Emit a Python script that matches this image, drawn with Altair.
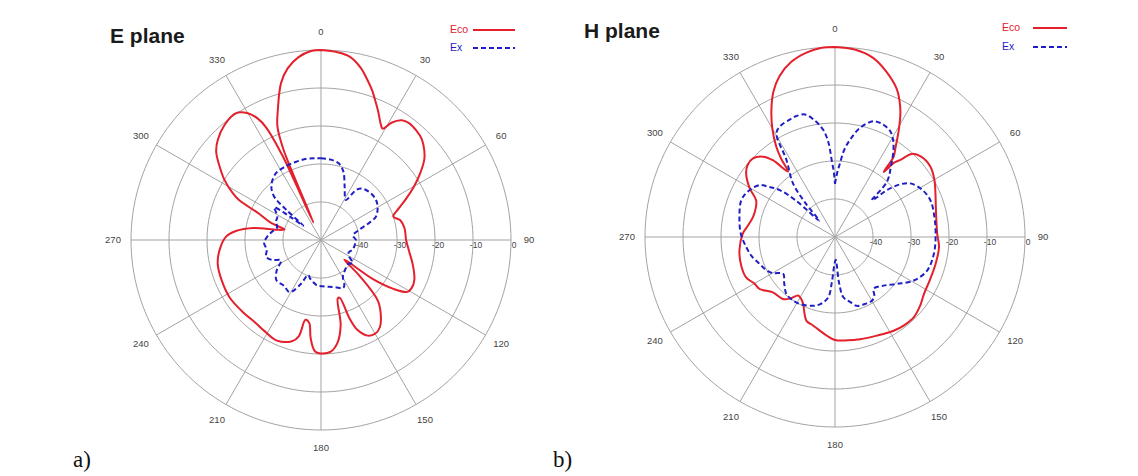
import altair as alt
import pandas as pd
import numpy as np

W, H = 1138, 476
R = 190.0          # pixel radius of the 0 dB ring
DB_MIN = -50.0
CENTERS = {"E": (321.0, 240.0), "H": (835.0, 237.0)}

# ---------------- data (angle in degrees clockwise from top, level in dB) ----------------
E_ECO_THETA = [0, 5, 9, 13, 16, 19, 21, 24, 27, 29, 31, 34, 37, 41, 45, 49, 52, 56, 60, 64, 68, 72, 76, 82,
               90, 98, 105, 113, 118, 121, 124, 127, 130, 133, 137, 142, 146, 150, 154, 158, 160, 162, 164,
               167, 171, 175, 179, 183, 186, 188, 191, 193, 196, 204, 212, 218, 228, 238, 248, 257, 265, 272,
               276, 280, 283, 286, 289, 293, 296, 298, 302, 306, 310, 314, 320, 326, 330, 332.5, 334, 335.5,
               336.5, 337.5, 339, 341.6, 345.7, 349, 353, 357, 360]
E_ECO_DB = [0, -0.4, -1.2, -3.5, -6, -8.5, -10.4, -13, -15.5, -16.5, -14, -12, -11.5, -11.8, -12.5, -14, -15.5,
            -18.5, -21.7, -25, -28, -30, -28.5, -27.8, -27.6, -26.5, -25, -23.3, -23, -23.5, -27, -33, -42, -36,
            -28, -24.4, -22.3, -21.5, -22, -24.5, -28, -34, -34, -27, -22.5, -20.5, -20.1, -20.6, -24, -27.9,
            -28.6, -24, -22.3, -21.1, -21.8, -22.2, -22, -21.6, -21.8, -22.1, -23.3, -25, -27.5, -32, -38,
            -40, -36, -32.3, -26, -23.7, -20, -17, -14, -12.2, -10.5, -9.8, -11.5, -14, -17, -26, -45, -24,
            -18, -14, -7.4, -4, -1.5, -0.2, 0]

E_EX_THETA = [0, 7, 13, 18, 24, 29, 32, 35, 38, 42, 48, 54, 60, 67, 71, 75, 82, 90, 98, 107, 114, 120, 126, 132,
              140, 149, 153, 156, 163, 170, 178, 185, 191, 196, 200, 205, 211, 219, 228, 236, 243, 248, 253,
              260, 267, 274, 280, 286, 292, 298, 302, 305, 307, 309, 311, 313, 318, 326, 334, 342, 350, 356, 360]
E_EX_DB = [-28.5, -28.7, -29.3, -31, -34.7, -37, -37.6, -34, -32.8, -32.3, -32, -32.1, -32.8, -34.3, -37, -39.6,
           -41.5, -40.8, -41, -41.3, -42, -41.5, -39.7, -40.5, -40, -38.8, -36.5, -36.1, -37, -37.5, -37.8, -38,
           -38.8, -39.5, -40.2, -37, -34, -34.5, -34.2, -36, -38.2, -36, -34.9, -35.5, -35, -35.9, -37, -38,
           -37.2, -37, -36, -35, -40, -44, -38, -33, -30.5, -28.8, -28.5, -28.4, -28.3, -28.4, -28.5]

H_ECO_THETA = [0, 6, 12, 17, 22.8, 25.5, 27.8, 31, 34, 36.1, 36.8, 38.5, 40.3, 42.8, 47, 53.6, 60, 66.6, 75, 88,
               95.5, 105, 114, 122.7, 129, 135.6, 142, 148, 157, 166.2, 173, 180, 185, 189, 194, 198.8, 202,
               205.4, 209, 212.2, 216, 220, 228.3, 235.4, 240, 245.6, 253, 262, 272, 278, 283.8, 290, 295, 300,
               305.7, 309.5, 313.8, 318.1, 321, 324.3, 325.5, 327, 330, 333.5, 337, 341, 346, 351.2, 356, 360]
H_ECO_DB = [0, -0.4, -1.8, -4.3, -7.9, -10.5, -13.1, -17.5, -21.5, -23.8, -28.6, -25, -23.4, -20.2, -19, -18.8,
            -19.8, -21.2, -22.5, -23.1, -22.5, -22.6, -22.6, -22.2, -21.2, -20.4, -20.5, -20.9, -21.8, -22.3,
            -22.6, -22.9, -24, -25, -26, -26.7, -28.5, -30.5, -31.5, -31.8, -30, -28.7, -28.1, -25.9, -25.5,
            -24.3, -24.2, -24.6, -25.7, -27, -27.8, -27.8, -27.1, -24, -21.2, -20.2, -20.1, -21.6, -24, -28.8,
            -25, -21.6, -17, -12.5, -8.5, -5.2, -2.5, -0.9, -0.1, 0]

H_EX_THETA = [0, 2, 3.9, 6, 8.8, 13, 18.4, 23, 27.6, 30.5, 33.9, 38, 43.2, 45, 46.5, 47.9, 51, 54.5, 61, 68.9, 78,
              88, 99.6, 110, 118.9, 127, 135, 143.4, 146, 149.9, 156, 162.4, 167, 172.1, 175, 178, 181, 184,
              186.4, 192, 197.6, 207.7, 214, 220.5, 228, 234.7, 240, 245, 250.5, 257, 263.5, 272, 281.9, 291.5,
              298, 304.6, 307, 310.3, 313, 316, 319, 322, 327.8, 330.6, 334, 338.9, 342, 346.2, 350, 353.7, 356,
              357.5, 359, 360]
H_EX_DB = [-36, -33, -30.5, -27, -24.1, -20.5, -17.9, -17.8, -18.6, -20, -22.4, -26, -30, -36.3, -35, -31.6, -28,
           -25.7, -24, -23.1, -23.3, -23.5, -23.6, -24.2, -26.3, -29.5, -31.9, -33, -31.5, -30.6, -30.7, -31,
           -32.5, -34, -38, -44, -43, -38, -34, -32, -31, -30.1, -30, -30.3, -32, -33.3, -31, -29.8, -28.9,
           -27.5, -26.5, -25.2, -24.3, -23.5, -24.2, -25.9, -28, -30.9, -36, -44, -38, -32, -26, -18.6, -17.4,
           -16.9, -16.6, -16.8, -18.8, -21.6, -25, -29.7, -33, -36]

RING_DB = [-40, -30, -20, -10, 0]
RING_LABELS = ["-40", "-30", "-20", "-10", "0"]
SPOKE_ANGLES = [0, 30, 60, 90, 120, 150, 180, 210, 240, 270, 300, 330]
ANGLE_LABELS = ["0", "30", "60", "90", "120", "150", "180", "210", "240", "270", "300", "330"]
PLANES = ["E", "H"]
TITLES = ["E plane", "H plane"]
PANEL_TAGS = ["a)", "b)"]
SERIES = ["Eco", "Ex"]

RED = "#e3202c"
BLUE = "#1f1fc4"
GRID = "#a3a3a3"

# ---------------- tables ----------------
curve_rows = []
for plane, eco_t, eco_d, ex_t, ex_d in [("E", E_ECO_THETA, E_ECO_DB, E_EX_THETA, E_EX_DB),
                                         ("H", H_ECO_THETA, H_ECO_DB, H_EX_THETA, H_EX_DB)]:
    for series, ts, ds in [("Eco", eco_t, eco_d), ("Ex", ex_t, ex_d)]:
        for i, (t, d) in enumerate(zip(ts, ds)):
            curve_rows.append({"plane": plane, "series": series, "idx": i, "theta": t, "db": d})
curves = pd.DataFrame(curve_rows)

ring_rows = []
for plane in PLANES:
    for db in RING_DB:
        for i, t in enumerate(np.arange(0, 361, 2)):
            ring_rows.append({"plane": plane, "ring": db, "idx": i, "theta": float(t), "db": db})
rings = pd.DataFrame(ring_rows)

spokes = pd.DataFrame([{"plane": p, "theta": a} for p in PLANES for a in SPOKE_ANGLES])
angle_text = pd.DataFrame([{"plane": p, "theta": a, "label": l}
                           for p in PLANES for a, l in zip(SPOKE_ANGLES, ANGLE_LABELS)])
ring_text = pd.DataFrame([{"plane": p, "db": d, "label": l}
                          for p in PLANES for d, l in zip(RING_DB, RING_LABELS)])

cx_expr = f"datum.plane == 'E' ? {CENTERS['E'][0]} : {CENTERS['H'][0]}"
cy_expr = f"datum.plane == 'E' ? {CENTERS['E'][1]} : {CENTERS['H'][1]}"

xs = alt.Scale(domain=[0, W], nice=False, zero=False)
ys = alt.Scale(domain=[0, H], nice=False, zero=False, reverse=True)


def polar(chart, r_expr):
    return chart.transform_calculate(
        cx=cx_expr, cy=cy_expr, rr=r_expr
    ).transform_calculate(
        px=f"datum.cx + datum.rr * sin(datum.theta * PI / 180)",
        py=f"datum.cy - datum.rr * cos(datum.theta * PI / 180)",
    )


r_from_db = f"(datum.db - ({DB_MIN})) / ({-DB_MIN}) * {R}"

ring_layer = polar(alt.Chart(rings), r_from_db).mark_line(
    color=GRID, strokeWidth=1
).encode(
    x=alt.X("px:Q", scale=xs, axis=None),
    y=alt.Y("py:Q", scale=ys, axis=None),
    detail="key:N",
    order="idx:Q",
).transform_calculate(key="datum.plane + datum.ring")

spoke_layer = alt.Chart(spokes).transform_calculate(
    cx=cx_expr, cy=cy_expr
).transform_calculate(
    x2v=f"datum.cx + {R} * sin(datum.theta * PI / 180)",
    y2v=f"datum.cy - {R} * cos(datum.theta * PI / 180)",
).mark_rule(color=GRID, strokeWidth=1).encode(
    x=alt.X("cx:Q", scale=xs, axis=None),
    y=alt.Y("cy:Q", scale=ys, axis=None),
    x2="x2v:Q",
    y2="y2v:Q",
)

angle_layer = polar(alt.Chart(angle_text), "208").mark_text(
    fontSize=9.5, color="#444444", font="Liberation Sans", align="center", baseline="middle"
).encode(
    x=alt.X("px:Q", scale=xs, axis=None),
    y=alt.Y("py:Q", scale=ys, axis=None),
    text="label:N",
)

ring_label_layer = alt.Chart(ring_text).transform_calculate(
    cx=cx_expr, cy=cy_expr
).transform_calculate(
    px=f"datum.cx + (datum.db - ({DB_MIN})) / ({-DB_MIN}) * {R} + 3",
    py="datum.cy + 5",
).mark_text(
    fontSize=8.5, color="#444444", font="Liberation Sans", align="center", baseline="middle"
).encode(
    x=alt.X("px:Q", scale=xs, axis=None),
    y=alt.Y("py:Q", scale=ys, axis=None),
    text="label:N",
)

eco_layer = polar(alt.Chart(curves).transform_filter("datum.series == 'Eco'"), r_from_db).mark_line(
    color=RED, strokeWidth=2, interpolate="catmull-rom"
).encode(
    x=alt.X("px:Q", scale=xs, axis=None),
    y=alt.Y("py:Q", scale=ys, axis=None),
    detail="plane:N",
    order="idx:Q",
)

ex_layer = polar(alt.Chart(curves).transform_filter("datum.series == 'Ex'"), r_from_db).mark_line(
    color=BLUE, strokeWidth=2, strokeDash=[5, 3], interpolate="catmull-rom"
).encode(
    x=alt.X("px:Q", scale=xs, axis=None),
    y=alt.Y("py:Q", scale=ys, axis=None),
    detail="plane:N",
    order="idx:Q",
)

# titles, panel tags and legends
title_df = pd.DataFrame({"label": TITLES, "px": [110, 584], "py": [43, 38]})
title_layer = alt.Chart(title_df).mark_text(
    fontSize=21, fontWeight="bold", font="Liberation Sans", color="#1a1a1a", align="left", baseline="alphabetic"
).encode(x=alt.X("px:Q", scale=xs, axis=None), y=alt.Y("py:Q", scale=ys, axis=None), text="label:N")

tag_df = pd.DataFrame({"label": PANEL_TAGS, "px": [73, 553], "py": [467, 467]})
tag_layer = alt.Chart(tag_df).mark_text(
    fontSize=23, font="Liberation Serif", color="#111111", align="left", baseline="alphabetic"
).encode(x=alt.X("px:Q", scale=xs, axis=None), y=alt.Y("py:Q", scale=ys, axis=None), text="label:N")

leg_df = pd.DataFrame({
    "label": SERIES * 2,
    "px": [450, 450, 1002, 1002],
    "py": [30, 48, 28, 47],
    "lx1": [473, 473, 1033, 1033],
    "lx2": [515, 515, 1067, 1067],
})
leg_text = alt.Chart(leg_df).mark_text(
    fontSize=10.5, font="Liberation Sans", align="left", baseline="middle"
).encode(
    x=alt.X("px:Q", scale=xs, axis=None), y=alt.Y("py:Q", scale=ys, axis=None), text="label:N",
    color=alt.Color("label:N", scale=alt.Scale(domain=SERIES, range=[RED, BLUE]), legend=None),
)
leg_eco = alt.Chart(leg_df).transform_filter("datum.label == 'Eco'").mark_rule(
    color=RED, strokeWidth=2
).encode(x=alt.X("lx1:Q", scale=xs, axis=None), x2="lx2:Q", y=alt.Y("py:Q", scale=ys, axis=None))
leg_ex = alt.Chart(leg_df).transform_filter("datum.label == 'Ex'").mark_rule(
    color=BLUE, strokeWidth=2, strokeDash=[5, 3]
).encode(x=alt.X("lx1:Q", scale=xs, axis=None), x2="lx2:Q", y=alt.Y("py:Q", scale=ys, axis=None))

chart = alt.layer(
    ring_layer, spoke_layer, angle_layer, ring_label_layer, eco_layer, ex_layer,
    title_layer, tag_layer, leg_text, leg_eco, leg_ex,
).properties(
    width=W, height=H, padding=0, autosize=alt.AutoSizeParams(type="none"),
    background="white",
).configure_view(stroke=None)

chart.save("out.html", embed_options={"renderer": "svg", "actions": False})
